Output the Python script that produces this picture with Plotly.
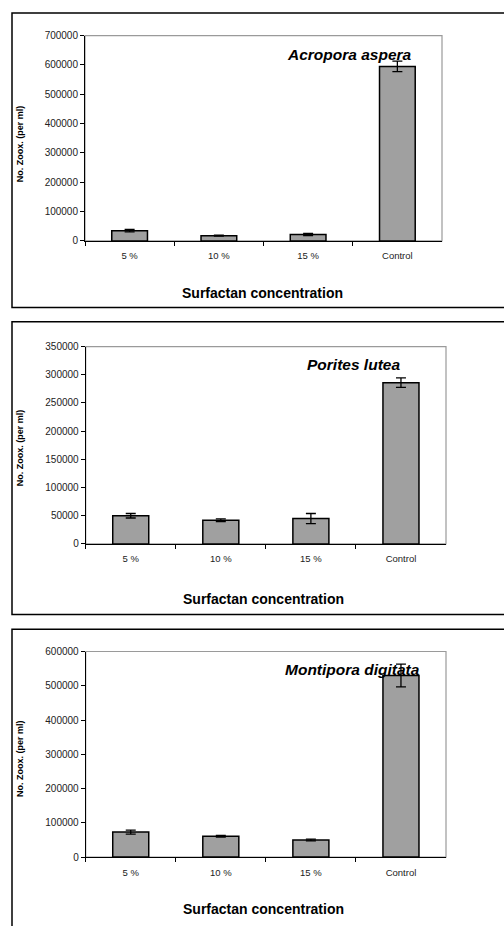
import plotly.graph_objects as go

categories = ["5 %", "10 %", "15 %", "Control"]

acropora_vals = [35000, 18000, 22000, 595000]
acropora_err = [4000, 1500, 4000, 18000]

porites_vals = [50000, 42000, 45000, 286000]
porites_err = [4000, 2500, 9000, 8500]

montipora_vals = [73000, 61000, 50000, 530000]
montipora_err = [6000, 2500, 2500, 33000]

species = ["Acropora aspera", "Porites lutea", "Montipora digitata"]
y_max = [700000, 350000, 600000]
y_step = [100000, 50000, 100000]
x_title = "Surfactan concentration"
y_title = "No. Zoox. (per ml)"

W, H = 504, 926
FONT = "Liberation Sans, Arial, Helvetica, sans-serif"

def px_x(v):
    return v / W

def px_y(v):
    return 1 - v / H

# plot area geometry in pixels (left, right, top, bottom)
areas = [(85, 442, 30, 238), (85.7, 446, 345, 545), (85.7, 446, 654, 862.3)]
boxes = [(12, 7, 305.5), (12, 320, 616.5), (12, 631.5, None)]
title_pos = [(349, 49), (353, 363), (352, 672.7)]
xtitle_pos = [(262, 291), (263, 601), (263, 915)]
ytitle_pos = [(20, 140), (20, 448), (20, 763)]

vals = [acropora_vals, porites_vals, montipora_vals]
errs = [acropora_err, porites_err, montipora_err]

fig = go.Figure()
layout = dict(
    width=W, height=H,
    margin=dict(l=0, r=0, t=0, b=0),
    paper_bgcolor="white", plot_bgcolor="white",
    showlegend=False, bargap=0.6,
    font=dict(family=FONT, color="black"),
)
shapes = []
annotations = []

for i in range(3):
    sfx = "" if i == 0 else str(i + 1)
    xa, ya = "x" + sfx, "y" + sfx
    fig.add_trace(go.Bar(
        x=categories, y=vals[i], xaxis=xa, yaxis=ya,
        marker=dict(color="#a0a0a0", line=dict(color="black", width=1.5)),
        error_y=dict(type="data", array=errs[i], color="black", thickness=1.3, width=5),
        width=0.4,
    ))
    l, r, t, b = areas[i]
    layout["xaxis" + sfx] = dict(
        domain=[px_x(l), px_x(r)], anchor=ya,
        type="category", range=[-0.5, 3.5],
        showline=True, linecolor="black", linewidth=1,
        ticks="outside", tickson="boundaries", ticklen=4, tickcolor="black",
        tickfont=dict(size=9.5, family=FONT, color="#222"),
        ticklabelstandoff=6,
        showgrid=False, zeroline=False, fixedrange=True,
    )
    layout["yaxis" + sfx] = dict(
        domain=[px_y(b), px_y(t)], anchor=xa,
        range=[0, y_max[i]], tickmode="linear", tick0=0, dtick=y_step[i],
        tickformat="d",
        showline=True, linecolor="black", linewidth=1,
        ticks="outside", ticklen=4, tickcolor="black",
        tickfont=dict(size=10, family=FONT, color="#222"),
        showgrid=False, zeroline=False, fixedrange=True,
    )
    # gray plot-area border (top/right)
    shapes.append(dict(type="rect", xref=xa + " domain", yref=ya + " domain",
                       x0=0, x1=1, y0=0, y1=1, line=dict(color="#9a9a9a", width=1.2),
                       layer="below"))
    # outer frame
    bx, btop, bbot = boxes[i]
    if bbot is None:
        shapes.append(dict(type="path", xref="paper", yref="paper",
                           path=f"M {px_x(bx)},-0.05 L {px_x(bx)},{px_y(btop)} L 1.05,{px_y(btop)}",
                           line=dict(color="black", width=1.5)))
    else:
        shapes.append(dict(type="rect", xref="paper", yref="paper",
                           x0=px_x(bx), x1=1.05, y0=px_y(bbot), y1=px_y(btop),
                           line=dict(color="black", width=1.5)))
    tx, ty = title_pos[i]
    annotations.append(dict(text=f"<b><i>{species[i]}</i></b>", xref="paper", yref="paper",
                            x=px_x(tx), y=px_y(ty), xanchor="center", yanchor="middle",
                            showarrow=False, font=dict(size=15.5, family=FONT, color="black")))
    xx, xy = xtitle_pos[i]
    annotations.append(dict(text=f"<b>{x_title}</b>", xref="paper", yref="paper",
                            x=px_x(xx), y=px_y(xy), xanchor="center", yanchor="middle",
                            showarrow=False, font=dict(size=14, family=FONT, color="black")))
    yx, yy = ytitle_pos[i]
    annotations.append(dict(text=f"<b>{y_title}</b>", xref="paper", yref="paper",
                            x=px_x(yx), y=px_y(yy), xanchor="center", yanchor="middle",
                            textangle=-90,
                            showarrow=False, font=dict(size=9, family=FONT, color="black")))

layout["shapes"] = shapes
layout["annotations"] = annotations
fig.update_layout(**layout)
fig.write_html(
    "out.html",
    config={"displayModeBar": False, "staticPlot": True},
    post_script="document.body.style.margin='0';document.body.style.overflow='hidden';",
)
